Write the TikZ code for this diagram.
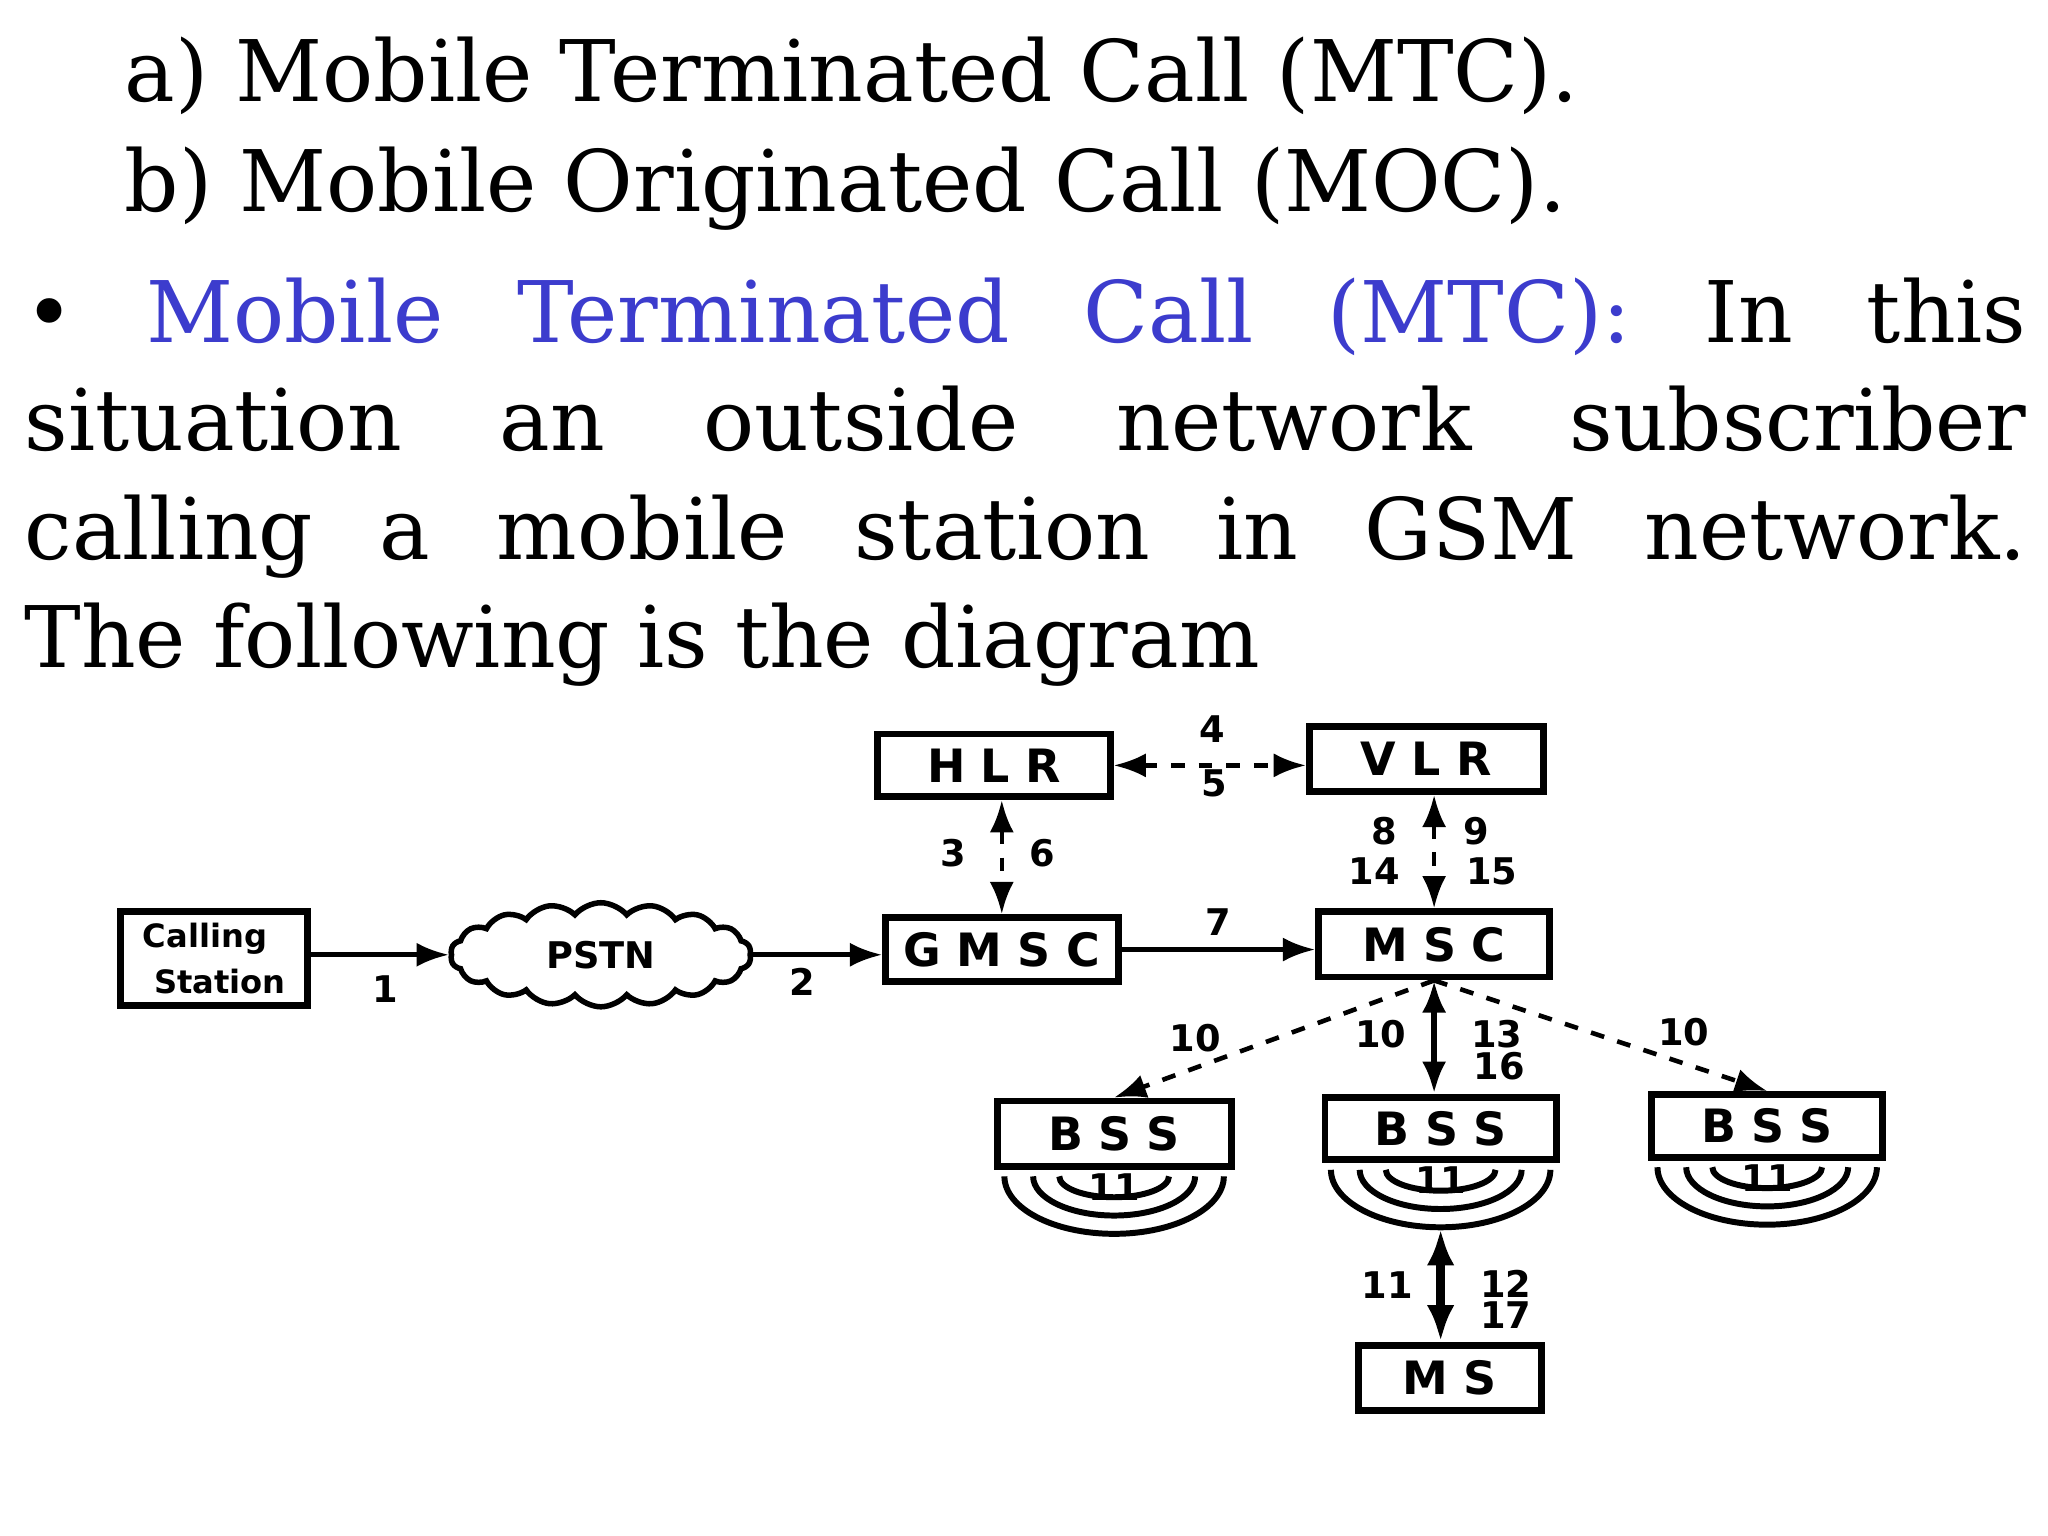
\documentclass[tikz,border=0pt]{standalone}
\usepackage{fontspec}
\setmainfont{DejaVu Serif}
\newfontfamily\dsans{DejaVu Sans}
\usetikzlibrary{shapes.symbols,arrows.meta}
\definecolor{hblue}{RGB}{60,60,205}
\begin{document}
\begin{tikzpicture}[x=0.01cm,y=-0.01cm,
  box/.style={draw,line width=1.5pt,inner sep=0pt,font=\dsans\bfseries\normalsize},
  lab/.style={font=\dsans\bfseries\footnotesize,inner sep=1pt},
  dar/.style={dashed,line width=1pt,{Latex[length=7pt]}-{Latex[length=7pt]}},
  sar/.style={line width=1pt,-{Latex[length=7pt]}},
  txt/.style={anchor=base west,inner sep=0pt,font=\fontsize{18.5}{22}\selectfont}]
\useasboundingbox[fill=white] (0,0) rectangle (1568,1176);
% text
\node[txt] (ta) at (95,78) {a) Mobile Terminated Call (MTC).};
\node[txt] (tb) at (95,162) {b) Mobile Originated Call (MOC).};
\node[txt] (t1) at (18,262) {\makebox[15.32cm][s]{•\kern0.55cm{\color{hblue}Mobile Terminated Call (MTC):} In this}};
\node[txt] (t2) at (18,345) {\makebox[15.32cm][s]{situation an outside network subscriber}};
\node[txt] (t3) at (18,428) {\makebox[15.32cm][s]{calling a mobile station in GSM network.}};
\node[txt] (t4) at (18,511) {The following is the diagram};
% boxes
\node[box,minimum width=1.78cm,minimum height=0.48cm] (hlr) at (761,586) {H\,\,L\,\,R};
\node[box,minimum width=1.79cm,minimum height=0.50cm] (vlr) at (1092,581) {V\,\,L\,\,R};
\node[box,minimum width=1.43cm,minimum height=0.72cm,font=\dsans\bfseries\scriptsize,align=left] (cs) at (164,734) {Calling\\[2pt] \ Station};
\node[cloud,draw,line width=1.2pt,cloud puffs=18,cloud puff arc=100,minimum width=2.3cm,minimum height=0.68cm,aspect=3.4,font=\dsans\bfseries\footnotesize] (pstn) at (460,731) {PSTN};
\node[box,minimum width=1.78cm,minimum height=0.49cm] (gmsc) at (767,727) {G\,\,M\,\,S\,\,C};
\node[box,minimum width=1.77cm,minimum height=0.50cm] (msc) at (1098,723) {M\,\,S\,\,C};
\node[box,minimum width=1.79cm,minimum height=0.50cm] (b1) at (853,868) {B\,\,S\,\,S};
\node[box,minimum width=1.77cm,minimum height=0.48cm] (b2) at (1103,864) {B\,\,S\,\,S};
\node[box,minimum width=1.77cm,minimum height=0.48cm] (b3) at (1353,862) {B\,\,S\,\,S};
\node[box,minimum width=1.40cm,minimum height=0.50cm] (ms) at (1110,1055) {M\,\,S};
% radiation arcs
\foreach \b in {b1,b2,b3}{
  \foreach \rx/\ry in {42/16,62/30,84/44}
    \draw[line width=1.3pt] ([xshift=-\rx*0.01cm,yshift=-0.05cm]\b.south) arc[start angle=180,end angle=0,x radius=\rx,y radius=\ry];
  \node[lab] at ([yshift=-0.13cm]\b.south) {11};
}
\coordinate (b2s) at ([yshift=-0.5cm]b2.south);
% connectors
\draw[dar] (hlr.east) -- (hlr.east -| vlr.west);
\node[lab] (l4) at (928,558) {4};
\node[lab] (l5) at (930,600) {5};
\draw[dar] (hlr.south -| gmsc.north) -- (gmsc.north);
\node[lab] (l3) at (730,653) {3};
\node[lab] (l6) at (798,653) {6};
\draw[dar] (vlr.south -| msc.north) -- (msc.north);
\node[lab] at (1060,636) {8};
\node[lab] at (1130,636) {9};
\node[lab] at (1052,667) {14};
\node[lab] at (1142,667) {15};
\draw[sar] (cs.east |- pstn.west) -- (pstn.west);
\node[lab] at (295,757) {1};
\draw[sar] (pstn.east) -- (pstn.east -| gmsc.west);
\node[lab] at (614,752) {2};
\draw[sar] (gmsc.east) -- (gmsc.east -| msc.west);
\node[lab] at (933,706) {7};
\draw[dashed,line width=1pt,-{Latex[length=7pt]}] (msc.south) -- (b1.north);
\node[lab] at (915,795) {10};
\draw[line width=1.3pt,{Latex[length=7pt]}-{Latex[length=7pt]}] (msc.south) -- (msc.south |- b2.north);
\node[lab] at (1057,792) {10};
\node[lab] at (1146,792) {13};
\node[lab] at (1148,816) {16};
\draw[dashed,line width=1pt,-{Latex[length=7pt]}] (msc.south) -- (b3.north);
\node[lab] at (1289,790) {10};
\draw[line width=2pt,{Latex[length=8pt]}-{Latex[length=8pt]}] (b2s) -- (b2s |- ms.north);
\node[lab] at (1062,984) {11};
\node[lab] at (1153,983) {12};
\node[lab] at (1153,1007) {17};
\end{tikzpicture}
\end{document}
